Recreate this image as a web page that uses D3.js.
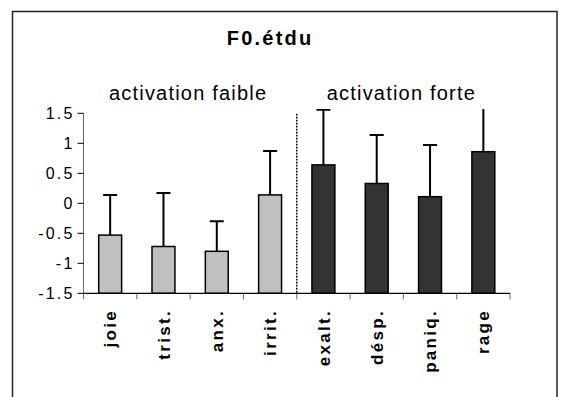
<!DOCTYPE html>
<html>
<head>
<meta charset="utf-8">
<script src="https://cdn.jsdelivr.net/npm/d3@7"></script>
<style>
  html, body { margin: 0; padding: 0; background: #fff; }
  svg { display: block; font-family: "Liberation Sans", Arial, sans-serif; }
</style>
</head>
<body>
<svg id="chart" width="569" height="397"></svg>
<script>
// Mean F0 (z-scores) per emotion, with standard deviations
const categories = ["joie", "trist.", "anx.", "irrit.", "exalt.", "désp.", "paniq.", "rage"];
const means      = [-0.53, -0.72, -0.80, 0.14, 0.64, 0.33, 0.11, 0.86];
const stdDevs    = [0.67, 0.89, 0.50, 0.73, 0.92, 0.81, 0.86, 0.85];
const groupOf    = [0, 0, 0, 0, 1, 1, 1, 1];
const groupLabels = ["activation faible", "activation forte"];
const yTicks     = [-1.5, -1, -0.5, 0, 0.5, 1, 1.5];
const title      = "F0.étdu";

const groupFill = ["#c0c0c0", "#333333"];

const svg = d3.select("#chart");

// outer frame (bottom edge runs past the page)
svg.append("rect")
  .attr("x", 12.5).attr("y", 11.5)
  .attr("width", 544.5).attr("height", 420)
  .attr("fill", "none").attr("stroke", "#222").attr("stroke-width", 1.5);

const x = d3.scaleBand()
  .domain(categories)
  .range([83.5, 510])
  .paddingInner(0.57)
  .paddingOuter(0.285);

const y = d3.scaleLinear()
  .domain([-1.5, 1.5])
  .range([293.3, 113.3]);

const step = x.step();
const x0 = x.range()[0];

// title
svg.append("text")
  .attr("x", 269).attr("y", 45)
  .attr("text-anchor", "middle")
  .attr("font-weight", "bold")
  .attr("font-size", 20)
  .attr("letter-spacing", 2.2)
  .attr("dx", 1.1)
  .attr("fill", "#000")
  .text(title);

// group labels centred over each group of bands
groupLabels.forEach((lab, g) => {
  const idx = categories.filter((c, i) => groupOf[i] === g);
  const left = x(idx[0]) - step * x.paddingInner() / 2;
  const right = x(idx[idx.length - 1]) + x.bandwidth() + step * x.paddingInner() / 2;
  svg.append("text")
    .attr("x", (left + right) / 2 - 2)
    .attr("y", 100)
    .attr("text-anchor", "middle")
    .attr("font-size", 20)
    .attr("letter-spacing", 1.2)
    .attr("fill", "#000")
    .text(lab);
});

// clip region of the plot area
svg.append("defs").append("clipPath").attr("id", "plotClip")
  .append("rect")
  .attr("x", x0).attr("y", 109)
  .attr("width", x.range()[1] - x0).attr("height", y(-1.5) - 109);

const plot = svg.append("g").attr("clip-path", "url(#plotClip)");

// dotted separator between the two groups
const sepIndex = groupOf.indexOf(1);
const sepX = x0 + step * sepIndex;
svg.append("line")
  .attr("x1", sepX).attr("x2", sepX)
  .attr("y1", y(1.5) + 0.5).attr("y2", y(-1.5))
  .attr("stroke", "#000").attr("stroke-width", 1.5)
  .attr("stroke-dasharray", "1.6,1.4");

// error bars (upper half only)
const cx = i => x(categories[i]) + x.bandwidth() / 2;
plot.selectAll("line.err")
  .data(categories)
  .join("line")
  .attr("class", "err")
  .attr("x1", (d, i) => cx(i)).attr("x2", (d, i) => cx(i))
  .attr("y1", (d, i) => y(means[i]))
  .attr("y2", (d, i) => y(means[i] + stdDevs[i]))
  .attr("stroke", "#000").attr("stroke-width", 2);

plot.selectAll("line.cap")
  .data(categories)
  .join("line")
  .attr("class", "cap")
  .attr("x1", (d, i) => cx(i) - 7).attr("x2", (d, i) => cx(i) + 7)
  .attr("y1", (d, i) => y(means[i] + stdDevs[i]))
  .attr("y2", (d, i) => y(means[i] + stdDevs[i]))
  .attr("stroke", "#000").attr("stroke-width", 2);

// bars rise from the axis floor (-1.5)
plot.selectAll("rect.bar")
  .data(categories)
  .join("rect")
  .attr("class", "bar")
  .attr("x", d => x(d))
  .attr("width", x.bandwidth())
  .attr("y", (d, i) => y(means[i]))
  .attr("height", (d, i) => y(-1.5) - y(means[i]))
  .attr("fill", (d, i) => groupFill[groupOf[i]])
  .attr("stroke", "#000").attr("stroke-width", 1.5);

// y axis
const yAxisG = svg.append("g");
yAxisG.append("line")
  .attr("x1", x0).attr("x2", x0)
  .attr("y1", y(1.5)).attr("y2", y(-1.5))
  .attr("stroke", "#666").attr("stroke-width", 1);
yAxisG.selectAll("line.tick")
  .data(yTicks)
  .join("line")
  .attr("class", "tick")
  .attr("x1", x0 - 6).attr("x2", x0)
  .attr("y1", d => y(d)).attr("y2", d => y(d))
  .attr("stroke", "#000").attr("stroke-width", 1);
yAxisG.selectAll("text")
  .data(yTicks)
  .join("text")
  .attr("x", x0 - 9)
  .attr("y", d => y(d))
  .attr("dy", "0.36em")
  .attr("text-anchor", "end")
  .attr("font-size", 16)
  .attr("letter-spacing", 2.2)
  .attr("fill", "#000")
  .text(d => String(d));

// x axis with ticks between categories
const xAxisG = svg.append("g");
const boundaries = d3.range(categories.length + 1).map(i => x0 + i * step);
xAxisG.selectAll("line.tick")
  .data(boundaries)
  .join("line")
  .attr("class", "tick")
  .attr("x1", d => d).attr("x2", d => d)
  .attr("y1", y(-1.5)).attr("y2", y(-1.5) + 6)
  .attr("stroke", "#666").attr("stroke-width", 1);
xAxisG.append("line")
  .attr("x1", x0).attr("x2", x.range()[1])
  .attr("y1", y(-1.5)).attr("y2", y(-1.5))
  .attr("stroke", "#000").attr("stroke-width", 1.2);

// rotated category labels
xAxisG.selectAll("text")
  .data(categories)
  .join("text")
  .attr("transform", (d, i) => `translate(${cx(i)},309) rotate(-90)`)
  .attr("dy", "0.36em")
  .attr("text-anchor", "end")
  .attr("font-weight", "bold")
  .attr("font-size", 17)
  .attr("letter-spacing", 2.3)
  .attr("fill", "#000")
  .text(d => d);
</script>
</body>
</html>
